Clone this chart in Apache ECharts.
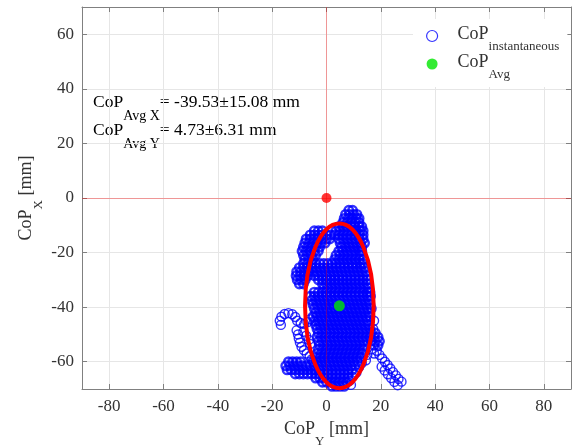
<!DOCTYPE html>
<html><head><meta charset="utf-8">
<script src="https://cdn.jsdelivr.net/npm/echarts@6/dist/echarts.min.js"></script>
<style>html,body{margin:0;padding:0;background:#fff}#c{width:573px;height:445px}</style>
</head><body><div id="c"></div><script>
// ---- data ----
const xTicks = [-80, -60, -40, -20, 0, 20, 40, 60, 80];   // CoP_Y (horizontal)
const yTicks = [-60, -40, -20, 0, 20, 40, 60];            // CoP_X (vertical)
const avgCopY = 4.73, sdCopY = 6.31;
const avgCopX = -39.53, sdCopX = 15.08;
const originPoint = [0, 0];
// instantaneous CoP, read row by row: [CoP_X, [CoP_Y values]]
const cloudRows = [
  [-4.5, [8.2, 9.6]],
  [-6, [7, 8.5, 10, 11.2]],
  [-7.5, [6.5, 8, 9.5, 11, 12]],
  [-9, [6, 7.5, 9, 10.5, 12]],
  [-10.5, [4.5, 6, 7.5, 9, 10.5, 12, 13]],
  [-12, [-4.5, -3, -1.5, 3.5, 5, 6.5, 8, 9.5, 11, 12.5, 13.5]],
  [-13.5, [-6, -4.5, -3, -1.5, 0, 1.5, 3, 4.5, 6, 7.5, 9, 10.5, 12, 13.5]],
  [-15, [-7.5, -6, -4.5, -3, -1.5, 0, 1.2, 4.5, 6, 7.5, 9, 10.5, 12, 13.5]],
  [-16.5, [-8, -6.5, -5, -3.5, -2, -0.5, 5, 6.5, 8, 9.5, 11, 12.5, 14]],
  [-18, [-8.5, -7, -5.5, -4, -2.5, 5.5, 7, 8.5, 10, 11.5, 13]],
  [-19.5, [-9, -7.5, -6, -4.5, -3, 4.5, 6, 7.5, 9, 10.5, 12, 13]],
  [-21, [-8.5, -7, -5.5, -4, 3.5, 5, 6.5, 8, 9.5, 11, 12.5]],
  [-22.5, [-8, -6.5, -5, 3, 4.5, 6, 7.5, 9, 10.5, 12, 13.5]],
  [-24, [-8.5, -7, -5.5, -4, -2.5, -1, 0.5, 2, 3.5, 5, 6.5, 8, 9.5, 11, 12.5, 13.5]],
  [-25.5, [-10, -8.5, -7, -5.5, -4, -2.5, -1, 0.5, 2, 3.5, 5, 6.5, 8, 9.5, 11, 12.5, 14]],
  [-27, [-11, -9.5, -8, -6.5, -5, -3.5, -2, -0.5, 1, 2.5, 4, 5.5, 7, 8.5, 10, 11.5, 13, 14.5]],
  [-28.5, [-11.2, -9.8, -8.2, -6.8, -4.5, -3, -1.5, 0, 1.5, 3, 4.5, 6, 7.5, 9, 10.5, 12, 13.5, 15]],
  [-30, [-10.8, -9.3, -7.8, -3, -1.5, 0, 1.5, 3, 4.5, 6, 7.5, 9, 10.5, 12, 13.5, 15]],
  [-31.5, [-10, -8.5, -1.5, 0, 1.5, 3, 4.5, 6, 7.5, 9, 10.5, 12, 13.5, 15]],
  [-33, [-1, 0.5, 2, 3.5, 5, 6.5, 8, 9.5, 11, 12.5, 14, 15.5]],
  [-34.5, [-4.5, -3, -1.5, 0, 1.5, 3, 4.5, 6, 7.5, 9, 10.5, 12, 13.5, 15, 16]],
  [-36, [-6, -4.5, -3, -1.5, 0, 1.5, 3, 4.5, 6, 7.5, 9, 10.5, 12, 13.5, 15, 16.2]],
  [-37.5, [-5.5, -4, -2.5, -1, 0.5, 2, 3.5, 5, 6.5, 8, 9.5, 11, 12.5, 14, 15.5]],
  [-39, [-5, -3.5, -2, -0.5, 1, 2.5, 4, 5.5, 7, 8.5, 10, 11.5, 13, 14.5, 16]],
  [-40.5, [-4.5, -3, -1.5, 0, 1.5, 3, 4.5, 6, 7.5, 9, 10.5, 12, 13.5, 15, 16.5]],
  [-42, [-4, -2.5, -1, 0.5, 2, 3.5, 5, 6.5, 8, 9.5, 11, 12.5, 14, 15.5]],
  [-43.5, [-5, -3.5, -2, -0.5, 1, 2.5, 4, 5.5, 7, 8.5, 10, 11.5, 13, 14.5, 16]],
  [-45, [-4.5, -3, -1.5, 0, 1.5, 3, 4.5, 6, 7.5, 9, 10.5, 12, 13.5, 15]],
  [-46.5, [-4, -2.5, -1, 0.5, 2, 3.5, 5, 6.5, 8, 9.5, 11, 12.5, 14, 15.5]],
  [-48, [-3.5, -2, -0.5, 1, 2.5, 4, 5.5, 7, 8.5, 10, 11.5, 13, 14.5, 16]],
  [-49.5, [-3, -1.5, 0, 1.5, 3, 4.5, 6, 7.5, 9, 10.5, 12, 13.5, 15, 16.5, 18]],
  [-51, [-3.5, -2, -0.5, 1, 2.5, 4, 5.5, 7, 8.5, 10, 11.5, 13, 14.5, 16, 17.5, 19]],
  [-52.5, [-3, -1.5, 0, 1.5, 3, 4.5, 6, 7.5, 9, 10.5, 12, 13.5, 15, 16.5, 18, 19.5]],
  [-54, [-2.5, -1, 0.5, 2, 3.5, 5, 6.5, 8, 9.5, 11, 12.5, 14, 17.5, 19]],
  [-55.5, [-3, -1.5, 0, 1.5, 3, 4.5, 6, 7.5, 9, 10.5, 12, 13.5]],
  [-57, [-3.5, -2, -0.5, 1, 2.5, 4, 5.5, 7, 8.5, 10, 11.5, 13]],
  [-58.5, [-4, -2.5, -1, 0.5, 2, 3.5, 5, 6.5, 8, 9.5, 11, 12.5]],
  [-60, [-14, -12.5, -11, -9.5, -5, -3.5, -2, -0.5, 1, 2.5, 4, 5.5, 7, 8.5, 10, 11.5]],
  [-61.5, [-15, -13.5, -12, -10.5, -9, -7.5, -6, -4.5, -3, -1.5, 0, 1.5, 3, 4.5, 6, 7.5, 9, 10.5]],
  [-63, [-14.5, -13, -11.5, -10, -8.5, -7, -5.5, -4, -2.5, -1, 0.5, 2, 3.5, 5, 6.5, 8, 9.5]],
  [-64.5, [-11.5, -10, -8.5, -7, -5.5, -4, -2.5, -1, 0.5, 2, 3.5, 5, 6.5, 8]],
  [-66, [-4, -2.5, -1, 0.5, 2, 3.5, 5, 6.5, 8]],
  [-67.5, [-1.5, 0, 1.5, 3, 4.5, 6, 7.5]],
  [-69, [2, 3.5, 5, 6.5]]
];
// sparse excursions: [CoP_Y, CoP_X]
const leftTail = [
  [-16.8, -46.5], [-17.2, -45], [-16.6, -43.5], [-15.4, -42.5], [-14, -42.2], [-12.6, -42.6],
  [-11.5, -43.6], [-10.8, -45], [-9.5, -45.8], [-8.2, -46.2], [-7, -45.5], [-6, -44.5],
  [-11, -48.5], [-10.5, -50], [-10.2, -51.5], [-9.8, -53], [-9.2, -54.5], [-8.3, -55.8],
  [-7.3, -57], [-6.2, -58], [-5.5, -59.2], [-8.5, -49], [-7.5, -50.5], [-6.5, -52], [-6, -53.5]
];
const rightTail = [
  [18.5, -56], [19.5, -57.5], [20.5, -58.8], [21.5, -60], [22.5, -61.2], [23.5, -62.5],
  [24.5, -63.8], [25.5, -65], [26.5, -66.3], [27.6, -67.3], [20.3, -61.8], [21.4, -63.2],
  [22.6, -64.6], [23.8, -66], [25, -67.4], [26.2, -68.6], [16.5, -55.5], [17.5, -57],
  [15, -57.5], [14.5, -59.5], [13, -60.5], [12, -62], [11, -64], [9.5, -65.5], [8.5, -67], [9, -68.5],
  [17.5, -45], [17.2, -48]
];

// ---- chart ----
const SERIF = 'Liberation Serif';
const TXT = '#333333';
const AX = '#808080';
const BLUE = '#0000ff';
const bodyData = [];
cloudRows.forEach(r => r[1].forEach(v => bodyData.push([v, r[0]])));
const tailData = leftTail.concat(rightTail);

function richSet(main, sub, subPad, mainLH) {
  return {
    a: {fontFamily: SERIF, fontSize: main, color: TXT, lineHeight: mainLH, verticalAlign: 'top'},
    s: {fontFamily: SERIF, fontSize: sub, color: TXT, lineHeight: sub, padding: [subPad, 0, 0, 0], verticalAlign: 'top'}
  };
}

const chart = echarts.init(document.getElementById('c'), null, {renderer: 'canvas'});
const option = {
  animation: false,
  backgroundColor: '#ffffff',
  grid: {left: 82, right: 2, top: 7, bottom: 56, containLabel: false, outerBoundsMode: 'none'},
  xAxis: [{
    type: 'value', min: -90, max: 90, position: 'bottom',
    axisLine: {show: true, onZero: false, lineStyle: {color: AX, width: 1}},
    axisTick: {show: true, inside: true, length: 5, customValues: xTicks, lineStyle: {color: AX}},
    axisLabel: {customValues: xTicks, color: TXT, fontSize: 17, fontFamily: SERIF, margin: 9},
    splitLine: {show: true, lineStyle: {color: '#e6e6e6', width: 1}},
    name: '{a|CoP}{s|Y}{a| [mm]}', nameLocation: 'middle', nameGap: 31, nameMoveOverlap: false,
    nameTextStyle: {rich: richSet(18, 13, 15, 22)}
  }, {
    type: 'value', min: -90, max: 90, position: 'top',
    axisLine: {show: true, onZero: false, lineStyle: {color: AX, width: 1}},
    axisTick: {show: true, inside: true, length: 5, customValues: xTicks, lineStyle: {color: AX}},
    axisLabel: {show: false}, splitLine: {show: false}
  }],
  yAxis: [{
    type: 'value', min: -70, max: 70, position: 'left',
    axisLine: {show: true, onZero: false, lineStyle: {color: AX, width: 1}},
    axisTick: {show: true, inside: true, length: 5, customValues: yTicks, lineStyle: {color: AX}},
    axisLabel: {customValues: yTicks, color: TXT, fontSize: 17, fontFamily: SERIF, margin: 8},
    splitLine: {show: true, lineStyle: {color: '#e6e6e6', width: 1}},
    name: '{a|CoP}{s|X}{a| [mm]}', nameLocation: 'middle', nameGap: 43, nameMoveOverlap: false,
    nameTextStyle: {rich: richSet(18, 13, 15, 22)}
  }, {
    type: 'value', min: -70, max: 70, position: 'right',
    axisLine: {show: true, onZero: false, lineStyle: {color: AX, width: 1}},
    axisTick: {show: true, inside: true, length: 5, customValues: yTicks, lineStyle: {color: AX}},
    axisLabel: {show: false}, splitLine: {show: false}
  }],
  legend: {
    left: 413, top: 19, orient: 'vertical',
    padding: [6, 8, 6, 13], itemGap: 0, itemWidth: 41, itemHeight: 11,
    backgroundColor: '#ffffff', borderWidth: 0,
    selectedMode: false,
    data: [
      {name: 'inst', icon: 'circle', itemStyle: {color: 'rgba(0,0,0,0)', borderColor: BLUE, borderWidth: 1.2}},
      {name: 'avg', icon: 'circle', itemStyle: {color: '#00e600', borderWidth: 0}}
    ],
    formatter: n => n === 'inst' ? '{a|CoP}{s|instantaneous}' : '{a|CoP}{s|Avg}',
    textStyle: {rich: richSet(18, 13, 15, 22)}
  },
  graphic: [
    {type: 'text', left: 93, top: 93, silent: true,
     style: {text: '{a|CoP}{s|Avg X}{a|= ' + avgCopX.toFixed(2) + '\u00b1' + sdCopX.toFixed(2) + ' mm}', rich: richSet(17.5, 14, 16, 22)}},
    {type: 'text', left: 93, top: 121, silent: true,
     style: {text: '{a|CoP}{s|Avg Y}{a|= ' + avgCopY.toFixed(2) + '\u00b1' + sdCopY.toFixed(2) + ' mm}', rich: richSet(17.5, 14, 16, 22)}}
  ],
  series: [{
    name: 'inst', type: 'scatter', data: bodyData, symbol: 'circle', symbolSize: 8.5, z: 2,
    itemStyle: {color: 'rgba(0,0,0,0)', borderColor: BLUE, borderWidth: 2.4},
    emphasis: {disabled: true}, silent: true
  }, {
    name: 'inst', type: 'scatter', data: tailData, symbol: 'circle', symbolSize: 9, z: 2,
    itemStyle: {color: 'rgba(0,0,0,0)', borderColor: BLUE, borderWidth: 1.4},
    emphasis: {disabled: true}, silent: true
  }, {
    name: 'ellipse', type: 'custom', z: 3, silent: true,
    data: [[avgCopY, avgCopX, sdCopY, sdCopX]],
    renderItem: (params, api) => {
      const c = api.coord([api.value(0), api.value(1)]);
      const s = api.size([2 * api.value(2), 2 * api.value(3)]);
      return {type: 'ellipse', shape: {cx: c[0], cy: c[1], rx: s[0], ry: s[1]},
              style: {fill: 'none', stroke: '#ff0000', lineWidth: 4}};
    }
  }, {
    name: 'origin', type: 'scatter', data: [originPoint], symbol: 'circle', symbolSize: 10, z: 4,
    itemStyle: {color: '#ff0000'}, silent: true,
    markLine: {
      silent: true, symbol: 'none', animation: false, label: {show: false},
      lineStyle: {color: 'rgba(255,0,0,0.35)', width: 1, type: 'solid'},
      data: [{xAxis: originPoint[0]}, {yAxis: originPoint[1]}]
    }
  }, {
    name: 'avg', type: 'scatter', data: [[avgCopY, avgCopX]], symbol: 'circle', symbolSize: 11, z: 5,
    itemStyle: {color: '#00e600'}, silent: true
  }]
};
chart.setOption(option);
</script></body></html>
